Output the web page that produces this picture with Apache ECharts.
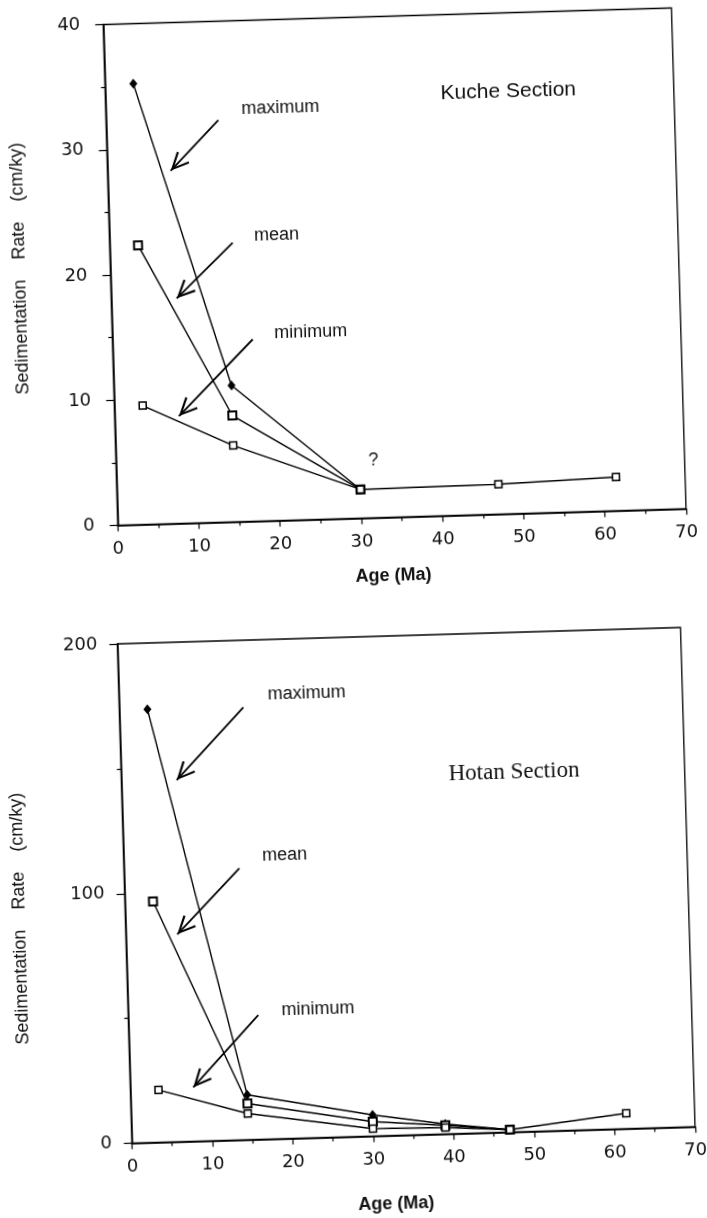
<!DOCTYPE html>
<html>
<head>
<meta charset="UTF-8">
<title>Sedimentation rate - Kuche / Hotan</title>
<script src="https://cdn.jsdelivr.net/npm/echarts@6/dist/echarts.min.js"></script>
<style>
	html, body { margin: 0; padding: 0; background: #fff; overflow: hidden; }
	/* the scanned figure sits a little tilted on the page */
	#chart { width: 707px; height: 1218px; transform: rotate(-1.67deg); }
</style>
</head>
<body>
	<div id="chart"></div>
	<script>
	// Kuche section (cm/ky vs Ma)
	var kucheMaxAge = [3.5, 14.5, 30];
	var kucheMaxRate = [35.2, 10.9, 2.3];
	var kucheMeanAge = [3.5, 14.5, 30];
	var kucheMeanRate = [22.3, 8.5, 2.3];
	var kucheMinAge = [3.5, 14.5, 30, 47, 61.5];
	var kucheMinRate = [9.5, 6.1, 2.3, 2.4, 2.7];

	// Hotan section
	var hotanMaxAge = [3.5, 14.5, 30, 39, 47];
	var hotanMaxRate = [173.5, 18, 8.5, 4, 1];
	var hotanMeanAge = [3.5, 14.5, 30, 39, 47];
	var hotanMeanRate = [96.5, 14.5, 5.8, 3.5, 1];
	var hotanMinAge = [3.5, 14.5, 30, 39, 47, 61.5];
	var hotanMinRate = [21, 10.5, 3, 2.6, 1, 6.2];

	var seriesNames = ['maximum', 'mean', 'minimum'];
	var sectionNames = ['Kuche Section', 'Hotan Section'];

	function pairs(xs, ys) {
	    return xs.map(function(v, i) {
		return [v, ys[i]];
	    });
	}

	var SANS = 'Liberation Sans';
	// open V arrow head, tip on top
	var CHEVRON = 'path://M0,0 L8.5,18 L6.6,19 L0,4.8 L-6.6,19 L-8.5,18 Z';

	var marks = {
	    maximum : { symbol : 'diamond', size : [8, 10], item : { color : '#000' } },
	    mean : { symbol : 'rect', size : 8, item : { color : '#fff', borderColor : '#000', borderWidth : 2 } },
	    minimum : { symbol : 'rect', size : 7, item : { color : '#fff', borderColor : '#000', borderWidth : 1.5 } }
	};

	function lineSeries(name, g, ages, rates) {
	    var m = marks[name];
	    return {
		name : name,
		type : 'line',
		xAxisIndex : g,
		yAxisIndex : g,
		data : pairs(ages, rates),
		symbol : m.symbol,
		symbolSize : m.size,
		showAllSymbol : true,
		itemStyle : m.item,
		lineStyle : { color : '#000', width : 1.4 },
		z : 3
	    };
	}

	function arrow(from, to) {
	    return [ { coord : from }, {
		coord : to,
		symbol : CHEVRON,
		symbolSize : [17, 19],
		symbolOffset : [0, '50%'],
		symbolKeepAspect : true
	    } ];
	}

	function note(text, at, style) {
	    return {
		name : text,
		coord : at,
		label : style || {}
	    };
	}

	function notesSeries(g, arrows, texts) {
	    return {
		type : 'line',
		xAxisIndex : g,
		yAxisIndex : g,
		data : [],
		silent : true,
		markLine : {
		    silent : true,
		    symbol : ['none', 'none'],
		    animation : false,
		    lineStyle : { color : '#000', width : 1.8, type : 'solid' },
		    label : { show : false },
		    data : arrows
		},
		markPoint : {
		    silent : true,
		    symbol : 'rect',
		    symbolSize : 1,
		    animation : false,
		    itemStyle : { color : 'rgba(0,0,0,0)' },
		    label : {
			show : true,
			position : 'inside',
			formatter : '{b}',
			color : '#111',
			fontFamily : SANS,
			fontSize : 18
		    },
		    data : texts
		}
	    };
	}

	function xAxisFor(g, nameGap, shift) {
	    return {
		type : 'value',
		gridIndex : g,
		min : 0,
		max : 70,
		interval : 10,
		name : 'Age (Ma)',
		nameLocation : 'middle',
		nameGap : nameGap,
		nameTextStyle : { color : '#111', fontFamily : SANS, fontSize : 18, fontWeight : 'bold', padding : [0, shift, 0, 0] },
		axisLine : { show : true, lineStyle : { color : '#000', width : 1.5 } },
		axisTick : { show : true, length : 6, lineStyle : { color : '#000', width : 1.2 } },
		minorTick : { show : true, splitNumber : 2, length : 4, lineStyle : { color : '#000', width : 1.2 } },
		axisLabel : { color : '#111', fontFamily : 'DejaVu Sans', fontSize : 18, margin : 15 },
		splitLine : { show : false }
	    };
	}

	function yAxisFor(g, max, interval, nameGap, pad, margin) {
	    return {
		type : 'value',
		gridIndex : g,
		min : 0,
		max : max,
		interval : interval,
		name : 'Sedimentation    Rate    (cm/ky)',
		nameLocation : 'middle',
		nameRotate : 90,
		nameGap : nameGap,
		nameTextStyle : { color : '#111', fontFamily : SANS, fontSize : 18, padding : pad },
		axisLine : { show : true, lineStyle : { color : '#000', width : 1.5 } },
		axisTick : { show : true, length : 8, lineStyle : { color : '#000', width : 1.2 } },
		minorTick : { show : true, splitNumber : 2, length : 4, lineStyle : { color : '#000', width : 1.2 } },
		axisLabel : { color : '#111', fontFamily : 'DejaVu Sans', fontSize : 18, margin : margin },
		splitLine : { show : false }
	    };
	}

	var chart = echarts.init(document.getElementById('chart'), null, { renderer : 'canvas' });

	var option = {
	    animation : false,
	    backgroundColor : '#fff',
	    grid : [ {
		left : 120.3, top : 17.5, width : 568.5, height : 501,
		show : true, borderColor : '#000', borderWidth : 1.3,
		outerBoundsMode : 'none'
	    }, {
		left : 116.4, top : 637, width : 563.4, height : 499.5,
		show : true, borderColor : '#000', borderWidth : 1.3,
		outerBoundsMode : 'none'
	    } ],
	    xAxis : [ xAxisFor(0, 50, 20), xAxisFor(1, 60, 38) ],
	    yAxis : [ yAxisFor(0, 40, 10, 81, [0, 0, 0, 18], 23), yAxisFor(1, 200, 100, 96, [0, 44, 0, 0], 20) ],
	    series : [
		lineSeries('maximum', 0, kucheMaxAge, kucheMaxRate),
		lineSeries('mean', 0, kucheMeanAge, kucheMeanRate),
		lineSeries('minimum', 0, kucheMinAge, kucheMinRate),
		lineSeries('maximum', 1, hotanMaxAge, hotanMaxRate),
		lineSeries('mean', 1, hotanMeanAge, hotanMeanRate),
		lineSeries('minimum', 1, hotanMinAge, hotanMinRate),
		notesSeries(0, [
		    arrow([13.83, 32.11], [7.79, 28.18]),
		    arrow([15.16, 22.29], [8.07, 17.98]),
		    arrow([17.28, 14.53], [7.93, 8.58])
		], [
		    note(seriesNames[0], [21.5, 32.9]),
		    note(seriesNames[1], [20.6, 22.8]),
		    note(seriesNames[2], [24.44, 15.0]),
		    note('?', [31.69, 4.62]),
		    note(sectionNames[0], [49.62, 33.7], { fontSize : 21 })
		]),
		notesSeries(1, [
		    arrow([15.42, 173.15], [6.88, 144.8]),
		    arrow([14.34, 108.76], [6.4, 83.07]),
		    arrow([16.16, 49.83], [7.83, 21.65])
		], [
		    note(seriesNames[0], [23.34, 178.0]),
		    note(seriesNames[1], [20.03, 113.55]),
		    note(seriesNames[2], [23.6, 51.5]),
		    note(sectionNames[1], [48.8, 143.8], { fontSize : 23, fontFamily : 'Liberation Serif' })
		])
	    ]
	};
	chart.setOption(option);
    </script>
</body>
</html>
